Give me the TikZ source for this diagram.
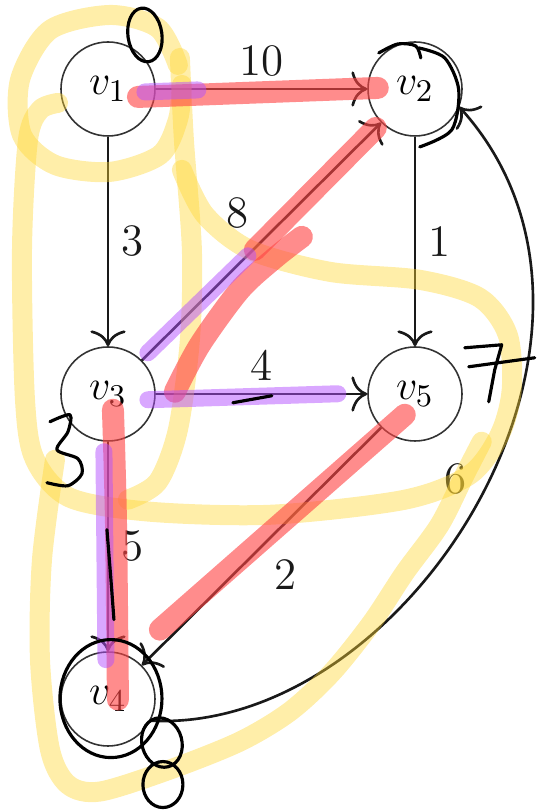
\documentclass[tikz,border=0pt]{standalone}
\usepackage{tikz}
\usetikzlibrary{arrows.meta}

\definecolor{hlyellow}{RGB}{255,214,50}
\definecolor{hlred}{RGB}{255,70,70}
\definecolor{hlpurple}{RGB}{180,80,255}

\begin{document}
\begin{tikzpicture}[
  font=\fontsize{12.8}{15}\selectfont,
  >={Computer Modern Rightarrow[width=10pt,length=4.5pt]},
  vertex/.style={circle, draw=black!80, line width=0.45pt, minimum size=0.94cm, inner sep=0pt},
  edge/.style={->, line width=0.75pt, black!90},
  yellowpen/.style={hlyellow, opacity=0.42, line width=0.2cm, line cap=round, line join=round},
  redpen/.style={hlred, opacity=0.62, line width=0.22cm, line cap=round},
  purplepen/.style={hlpurple, opacity=0.5, line width=0.17cm, line cap=round},
  inkpen/.style={black, line width=0.9pt, line cap=round, line join=round}
]
  \useasboundingbox (0,0) rectangle (5.44,8.12);

  % --- Vertices ---
  \node[vertex] (v1) at (1.08,7.23) {$v_1$};
  \node[vertex] (v2) at (4.15,7.23) {$v_2$};
  \node[vertex] (v3) at (1.08,4.18) {$v_3$};
  \node[vertex] (v5) at (4.15,4.18) {$v_5$};
  \node[vertex] (v4) at (1.08,1.13) {$v_4$};

  % --- Weighted edges ---
  \draw[edge] (v1) -- node[above] {10} (v2);
  \draw[edge] (v1) -- node[right] {3} (v3);
  \draw[edge] (v2) -- node[right] {1} (v5);
  \draw[edge] (v3) -- node[above left] {8} (v2);
  \draw[edge] (v3) -- node[above] {4} (v5);
  \draw[edge] (v3) -- node[right] {5} (v4);
  \draw[edge] (v5) -- node[below right] {2} (v4);
  \draw[edge] (v4.-27) .. controls +(-3:2.6) and +(-48:3.0) .. (v2.-22)
    node[pos=0.53, left=1mm] {6};

  % --- Hand annotations (pixel grid) ---
  \begin{scope}[shift={(0,8.12)}, x=0.01cm, y=-0.01cm]
    % yellow highlighter
    \draw[yellowpen] plot[smooth] coordinates {(178,65) (158,28) (110,15) (50,30)
      (20,80) (22,135) (55,165) (110,172) (160,155) (178,120) (182,85)};
    \draw[yellowpen] plot[smooth] coordinates {(180,58) (184,140) (192,250)
      (190,340) (178,430) (158,482) (128,500)};
    \draw[yellowpen] plot[smooth] coordinates {(182,170) (205,215) (250,250)
      (330,272) (420,280) (480,298) (508,335) (512,390) (500,435) (470,475)
      (405,500) (272,515) (150,512) (70,498) (35,460) (25,400) (22,250)
      (28,140) (40,110) (58,103)};
    \draw[yellowpen] plot[smooth] coordinates {(482,442) (465,475) (440,525)
      (405,573) (372,623) (332,673) (290,712) (240,742) (170,770) (100,792)
      (68,785) (50,750) (40,660) (42,560) (55,460)};

    % red highlighter
    \draw[redpen] (138,97) -- (378,88);
    \draw[redpen] plot[smooth] coordinates {(175,392) (200,345) (240,290)
      (275,258) (302,237)};
    \draw[redpen] (255,250) -- (376,128);
    \draw[redpen] (405,415) -- (160,630);
    \draw[redpen] plot[smooth] coordinates {(113,410) (116,520) (118,700)};

    % purple highlighter
    \draw[purplepen] (145,92) -- (198,90);
    \draw[purplepen] (148,353) -- (248,256);
    \draw[purplepen] (148,400) -- (338,394);
    \draw[purplepen] (104,452) -- (106,660);

    % ink
    \draw[inkpen, rotate around={8:(145,35)}] (145,35) ellipse [x radius=0.17cm, y radius=0.27cm];
    \draw[inkpen] plot[smooth] coordinates {(379,53) (398,44) (416,46) (421,58)};
    \draw[inkpen] plot[smooth] coordinates {(419,48) (445,58) (459,90) (452,130) (420,147)};
    \draw[inkpen] plot[smooth] coordinates {(50,422) (70,415) (68,432) (57,450)
      (78,459) (82,474) (68,486) (47,483)};
    \draw[inkpen] (465,348) -- (502,345) -- (495,370) -- (489,402);
    \draw[inkpen] (469,367) -- (535,358);
    \draw[inkpen] (233,403) -- (272,396);
    \draw[inkpen] plot[smooth] coordinates {(107,530) (111,580) (114,620)};
    \draw[inkpen] (111,699) ellipse [x radius=0.51cm, y radius=0.59cm];
    \draw[inkpen, rotate around={15:(162,743)}] (162,743) ellipse [x radius=0.2cm, y radius=0.25cm];
    \draw[inkpen] (163,785) ellipse [x radius=0.2cm, y radius=0.23cm];
  \end{scope}

\end{tikzpicture}
\end{document}
